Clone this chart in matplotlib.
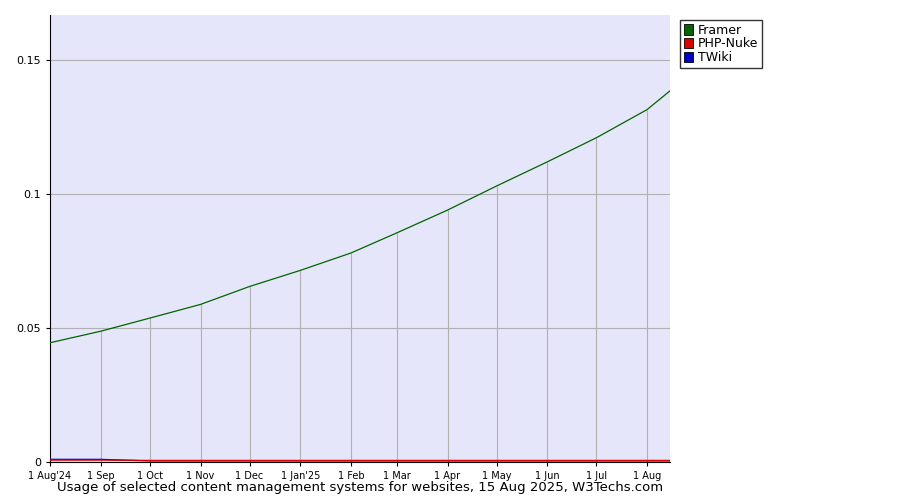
import matplotlib
matplotlib.use("Agg")
import matplotlib.pyplot as plt
import numpy as np

tick_labels = ["1 Aug'24","1 Sep","1 Oct","1 Nov","1 Dec","1 Jan'25","1 Feb","1 Mar","1 Apr","1 May","1 Jun","1 Jul","1 Aug"]
day_offsets = [0,31,61,92,122,153,184,212,243,273,304,334,365,379]
framer = [0.0445,0.0488,0.0537,0.0588,0.0655,0.0715,0.0780,0.0855,0.0940,0.1030,0.1120,0.1210,0.1315,0.1385]
phpnuke = [0.0007,0.0007,0.0006,0.0006,0.0006,0.0006,0.0006,0.0006,0.0006,0.0006,0.0006,0.0006,0.0006,0.0006]
twiki = [0.0010,0.0010,0.0004,0.0004,0.0004,0.0004,0.0004,0.0004,0.0004,0.0004,0.0004,0.0004,0.0004,0.0004]

fig = plt.figure(figsize=(9,5), dpi=100)
ax = fig.add_axes([50/900, 38/500, 620/900, 447/500])
ax.set_facecolor("#e6e6fa")
ax.set_xlim(0, 379)
ax.set_ylim(0, 0.1668)
ax.set_yticks([0,0.05,0.1,0.15])
ax.set_yticklabels(["0","0.05","0.1","0.15"], fontsize=8)
ax.set_xticks(day_offsets[:13])
ax.set_xticklabels(tick_labels, fontsize=7)
for y in [0.05,0.1,0.15]:
    ax.axhline(y, color="#b0b0b0", lw=0.8, zorder=1)
for x, v in zip(day_offsets[1:13], framer[1:13]):
    ax.vlines(x, 0, v, color="#b0b0b0", lw=0.8, zorder=1)
ax.plot(day_offsets, framer, color="#006400", lw=0.9, zorder=3)
ax.plot(day_offsets, twiki, color="#0000cc", lw=0.9, zorder=3)
ax.plot(day_offsets, phpnuke, color="#dd0000", lw=0.9, zorder=4)
for s in ["top","right"]:
    ax.spines[s].set_visible(False)
ax.tick_params(length=3)

from matplotlib.patches import Patch
handles = [Patch(facecolor=c, edgecolor="black", lw=0.6) for c in ["#006400","#dd0000","#0000cc"]]
fig.legend(handles, ["Framer","PHP-Nuke","TWiki"], loc="upper left", bbox_to_anchor=(680/900, 1-20/500),
           fontsize=9, frameon=True, fancybox=False, edgecolor="black", handlelength=0.7, handleheight=0.9,
           labelspacing=0.05, borderpad=0.3, handletextpad=0.4, borderaxespad=0)
fig.text(360/900, 1-488/500, "Usage of selected content management systems for websites, 15 Aug 2025, W3Techs.com",
         ha="center", va="center", fontsize=9.5)
fig.savefig("out.png")
